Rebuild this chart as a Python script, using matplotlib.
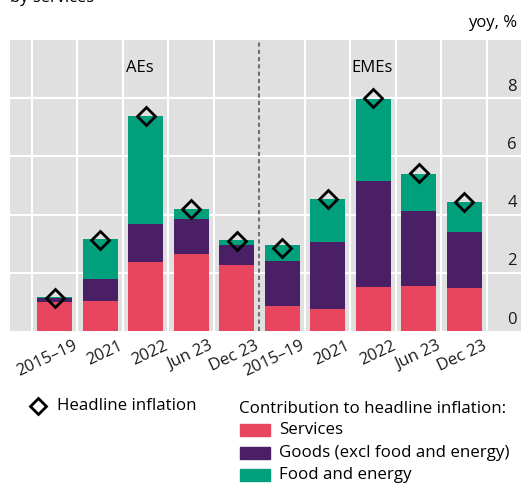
import numpy as np
import matplotlib.pyplot as plt
import matplotlib.transforms as mtransforms
from matplotlib.lines import Line2D
from matplotlib.patches import Rectangle

plt.rcParams['font.family'] = ['Open Sans', 'DejaVu Sans']

# data (yoy, %)
labels = ['2015–19', '2021', '2022', 'Jun 23', 'Dec 23',
          '2015–19', '2021', '2022', 'Jun 23', 'Dec 23']
services = [1.00, 1.03, 2.38, 2.66, 2.28, 0.86, 0.76, 1.52, 1.55, 1.48]
goods = [0.14, 0.76, 1.28, 1.18, 0.67, 1.55, 2.29, 3.62, 2.59, 1.91]
food_energy = [0.04, 1.36, 3.74, 0.34, 0.17, 0.54, 1.47, 2.84, 1.27, 1.06]
headline = [1.15, 3.12, 7.40, 4.18, 3.10, 2.85, 4.52, 8.00, 5.42, 4.45]
series_names = ['Services', 'Goods (excl food and energy)', 'Food and energy']

c_serv = '#E8465F'
c_goods = '#4B1F66'
c_food = '#00A07C'

W, H = 521, 483
fig = plt.figure(figsize=(W / 100, H / 100), dpi=100)
ax = fig.add_axes([10 / W, 1 - 331 / H, 1 - 10 / W, 291 / H])
ax.set_facecolor('#E0E0E0')

x = np.arange(len(labels))
s = np.array(services)
g = np.array(goods)
f = np.array(food_energy)
w = 0.77
ax.bar(x, s, w, color=c_serv, zorder=2)
ax.bar(x, g, w, bottom=s, color=c_goods, zorder=2)
ax.bar(x, f, w, bottom=s + g, color=c_food, zorder=2)
ax.plot(x, headline, linestyle='none', marker='D', markersize=9,
        markerfacecolor='none', markeredgecolor='black', markeredgewidth=2, zorder=3)

ax.set_xlim(-0.98, 10.25)
ax.set_ylim(0, 10)

# grid
for xv in np.arange(-0.5, 10, 1):
    if xv == 4.5:
        continue
    ax.axvline(xv, color='white', lw=1.5, zorder=1)
for yv in [2, 4, 6, 8]:
    ax.axhline(yv, color='white', lw=1.5, zorder=1)
ax.axvline(4.5, color='#707070', lw=1.5, ls=(0, (2, 1.5)), zorder=4)

for sp in ax.spines.values():
    sp.set_visible(False)
ax.tick_params(length=0)
ax.set_yticks([])

# y labels inside, on the right, just above the grid lines
for yv in [0, 2, 4, 6, 8]:
    ax.text(0.992, yv + 0.12, str(yv), transform=ax.get_yaxis_transform(),
            ha='right', va='bottom', fontsize=12, color='#1a1a1a')

# x labels
ax.set_xticks(x)
ax.set_xticklabels(labels, rotation=25, ha='right', va='top',
                   rotation_mode='anchor', fontsize=12, color='#1a1a1a')
offset = mtransforms.ScaledTranslation(18 / 100, -2 / 100, fig.dpi_scale_trans)
for lab in ax.get_xticklabels():
    lab.set_transform(lab.get_transform() + offset)

ax.text(1.88, 9.05, 'AEs', ha='center', va='center', fontsize=12)
ax.text(6.98, 9.05, 'EMEs', ha='center', va='center', fontsize=12)

fig.text(10 / W, 1 - 2 / H, 'by services', fontsize=12, va='baseline')
fig.text(517 / W, 1 - 23 / H, 'yoy, %', fontsize=12, ha='right', va='center')

# legend: headline marker
fig.add_artist(Line2D([38 / W], [1 - 406 / H], linestyle='none', marker='D',
                      markersize=8, markerfacecolor='none', markeredgecolor='black',
                      markeredgewidth=2, transform=fig.transFigure))
fig.text(57 / W, 1 - 406 / H, 'Headline inflation', fontsize=12.2, va='center')

# legend: contributions
fig.text(239 / W, 1 - 409 / H, 'Contribution to headline inflation:',
         fontsize=12.2, va='center')
row_y = [430, 453, 475]
for name, col, ry in zip(series_names, [c_serv, c_goods, c_food], row_y):
    fig.add_artist(Rectangle((240 / W, 1 - (ry + 6) / H), 30 / W, 12 / H,
                             color=col, transform=fig.transFigure))
    fig.text(279 / W, 1 - ry / H, name, fontsize=12.2, va='center')

fig.savefig('out.png', dpi=100)
